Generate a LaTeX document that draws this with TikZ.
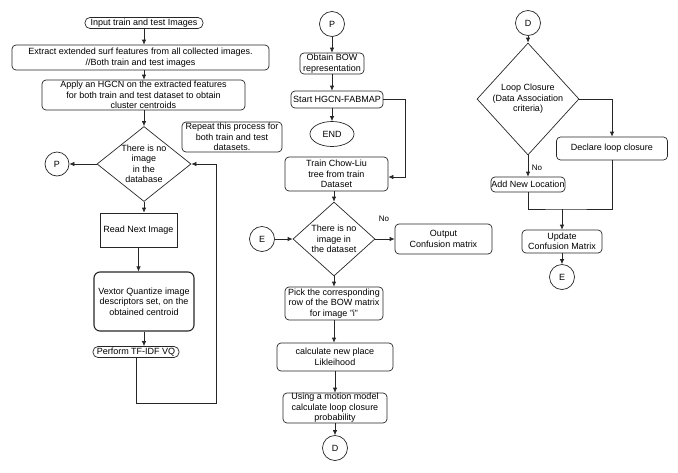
\documentclass[tikz,border=0pt]{standalone}
\usepackage{fontspec}
\setmainfont{Liberation Sans}
\usetikzlibrary{shapes.geometric,arrows.meta}
\begin{document}
\begin{tikzpicture}[x=1pt,y=-1pt,
  every node/.style={font=\fontsize{9}{10.5}\selectfont, text=black},
  ln/.style={draw=black!85, line width=0.7pt},
  box/.style={ln, rounded corners=4pt, align=center, inner sep=0pt},
  sqbox/.style={ln, align=center, inner sep=0pt},
  pill/.style={ln, rounded corners=5pt, align=center, inner sep=0pt, minimum height=11pt},
  dia/.style={ln, diamond, inner sep=0pt},
  circ/.style={ln, circle, inner sep=0pt, minimum size=25pt},
  arr/.style={ln, -{Latex[length=5pt,width=4.5pt]}},
  lab/.style={font=\fontsize{8}{9}\selectfont},
  ctext/.style={align=center}
  ]
\useasboundingbox (0,0) rectangle (678,472);

% ---------- left column ----------
\node[pill, minimum width=118pt] (in) at (144,23) {Input train and test Images};
\node[box, minimum width=257pt, minimum height=25pt] (ext) at (140.5,57.5) {Extract extended surf features from all collected images.\\//Both train and test images};
\node[box, minimum width=203pt, minimum height=30pt] (app) at (143.5,95) {Apply an HGCN on the extracted features\\for both train and test dataset to obtain\\cluster centroids};
\node[dia, minimum width=94pt, minimum height=75pt,
      label={[ctext]center:There is no\\image\\in the\\database}] (d1) at (144,164) {};
\node[circ, minimum size=24pt] (p1) at (57,164) {P};
\node[box, minimum width=100pt, minimum height=30pt] (rep) at (232,137) {Repeat this process for\\both train and test\\datasets.};
\node[sqbox, minimum width=77pt, minimum height=34pt] (read) at (138.5,230) {Read Next Image};
\node[box, rounded corners=6pt, line width=1.1pt, minimum width=100pt, minimum height=59pt] (vex) at (144,301.5) {Vextor Quantize image\\descriptors set, on the\\obtained centroid};
\node[pill, minimum width=86pt] (tf) at (136,352) {Perform TF-IDF VQ};
\coordinate (lp) at (216,403);

\draw[arr] (in.south) -- (in.south |- ext.north);
\draw[arr] (in.south |- ext.south) -- (in.south |- app.north);
\draw[arr] (in.south |- app.south) -- (d1.north);
\draw[arr] (d1.west) -- (p1.east);
\draw[arr] (d1.south) -- (d1.south |- read.north);
\draw[arr] (read.south) -- (read.south |- vex.north);
\draw[arr] (vex.south) -- (vex.south |- tf.north);
\draw[arr] (tf.south) |- (lp) |- (d1.east);

% ---------- middle column ----------
\node[circ] (p2) at (332,24) {P};
\node[box, minimum width=64pt, minimum height=21pt] (bow) at (332,63.5) {Obtain BOW\\representation};
\node[box, minimum width=92pt, minimum height=17pt] (st) at (337,99.5) {Start HGCN-FABMAP};
\node[ln, ellipse, minimum width=44pt, minimum height=25pt, inner sep=0pt] (end) at (332,134) {END};
\node[box, minimum width=103pt, minimum height=34pt] (tr) at (336.5,174) {Train Chow-Liu\\tree from train\\Dataset};
\coordinate (sc) at (405,177);
\node[dia, minimum width=82pt, minimum height=74pt,
      label={[ctext]center:There is no\\image in\\the dataset}] (d2) at (334,239) {};
\node[circ] (e1) at (262,239) {E};
\node[box, minimum width=97pt, minimum height=30pt] (out) at (443.5,239) {Output\\Confusion matrix};
\node[lab] (no1) at (384,219) {No};
\node[box, minimum width=98pt, minimum height=33pt] (pick) at (334,303.5) {Pick the corresponding\\row of the BOW matrix\\for image "i"};
\node[box, minimum width=116pt, minimum height=28pt] (calc) at (335,357) {calculate new place\\Likleihood};
\node[box, minimum width=104pt, minimum height=30pt] (use) at (335,408) {Using a motion model\\calculate loop closure\\probability};
\node[circ] (dd1) at (335,448) {D};

\draw[arr] (p2.south) -- (bow.north);
\draw[arr] (bow.south) -- (bow.south |- st.north);
\draw[arr] (end.north |- st.south) -- (end.north);
\draw[arr] (st.east) -| (sc) -- (sc -| tr.east);
\draw[arr] (d2.north |- tr.south) -- (d2.north);
\draw[arr] (e1.east) -- (d2.west);
\draw[arr] (d2.east) -- (out.west);
\draw[arr] (d2.south) -- (d2.south |- pick.north);
\draw[arr] (d2.south |- pick.south) -- (d2.south |- calc.north);
\draw[arr] (dd1.north |- calc.south) -- (dd1.north |- use.north);
\draw[arr] (dd1.north |- use.south) -- (dd1.north);

% ---------- right column ----------
\node[circ] (dd2) at (528,23) {D};
\node[dia, minimum width=102pt, minimum height=112pt,
      label={[ctext]center:Loop Closure\\(Data Association\\criteria)}] (d3) at (528,99) {};
\node[box, minimum width=111pt, minimum height=23pt] (decl) at (612,148.5) {Declare loop closure};
\node[box, minimum width=74pt, minimum height=15pt] (add) at (528,184.5) {Add New Location};
\node[lab] (no2) at (537,168) {No};
\coordinate (mg) at (562,209);
\node[box, minimum width=80pt, minimum height=23pt] (upd) at (562,241.5) {Update\\Confusion Matrix};
\node[circ] (e2) at (562,277) {E};

\draw[arr] (dd2.south) -- (d3.north);
\draw[arr] (d3.east) -| (decl.north);
\draw[arr] (d3.south) -- (add.north);
\draw[ln] (add.south) |- (mg) -| (decl.south);
\draw[arr] (mg) -- (upd.north);
\draw[arr] (upd.south) -- (e2.north);
\end{tikzpicture}
\end{document}
